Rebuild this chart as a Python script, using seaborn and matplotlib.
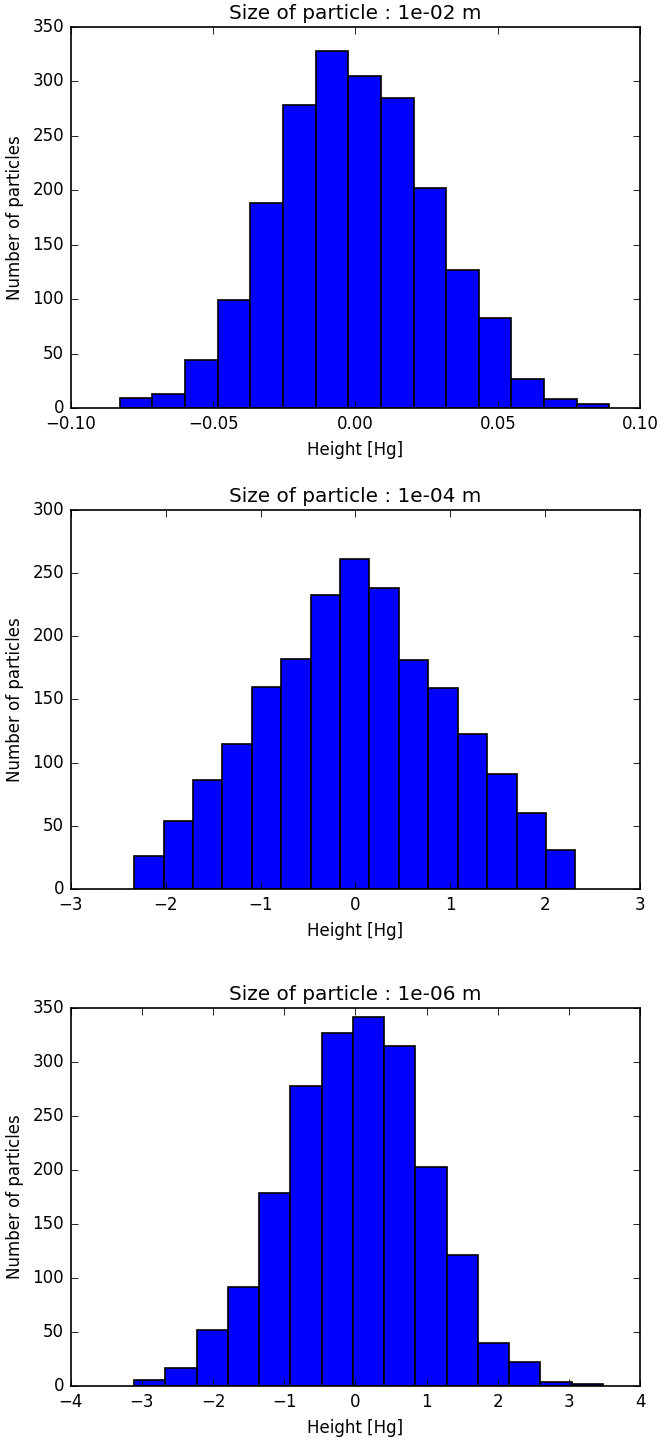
import numpy as np
import pandas as pd
import matplotlib
matplotlib.use("Agg")
import matplotlib.pyplot as plt
import seaborn as sns

# particle sizes shown in the titles
sizes = ["1e-02", "1e-04", "1e-06"]

# histogram range (first / last bin edge)
bin_lo = [-0.0828, -2.333, -3.111]
bin_hi = [0.0892, 2.317, 3.478]

# counts per bin (15 bins each)
counts_1 = [9, 13, 44, 99, 188, 278, 328, 305, 285, 202, 127, 83, 27, 8, 4]
counts_2 = [26, 54, 86, 115, 160, 182, 233, 261, 238, 181, 159, 123, 91, 60, 31]
counts_3 = [6, 17, 52, 92, 179, 278, 327, 342, 315, 203, 121, 40, 22, 4, 2]
all_counts = [counts_1, counts_2, counts_3]

x_limits = [(-0.1, 0.1), (-3, 3), (-4, 4)]
y_limits = [(0, 350), (0, 300), (0, 350)]

plt.style.use("classic")
plt.rcParams["figure.facecolor"] = "white"
plt.rcParams["savefig.facecolor"] = "white"
plt.rcParams["font.family"] = ["DejaVu Sans"]

DPI = 120
fig = plt.figure(figsize=(662 / DPI, 1439 / DPI), dpi=DPI)

tops = [0.9812, 0.6456, 0.2995]
bottoms = [0.7165, 0.3822, 0.0368]
left, right = 0.107, 0.967

for i in range(3):
    ax = fig.add_axes([left, bottoms[i], right - left, tops[i] - bottoms[i]])
    edges = np.linspace(bin_lo[i], bin_hi[i], len(all_counts[i]) + 1)
    df = pd.DataFrame({
        "height": (edges[:-1] + edges[1:]) / 2,
        "count": all_counts[i]
    })

    sns.histplot(
        data=df,
        x="height",
        weights="count",
        bins=len(all_counts[i]),
        binrange=(bin_lo[i], bin_hi[i]),
        color="blue",
        edgecolor="black",
        linewidth=1,
        alpha=1,
        ax=ax
    )

    ax.set_xlim(*x_limits[i])
    ax.set_ylim(*y_limits[i])
    ax.set_title("Size of particle : " + sizes[i] + " m", fontsize=12)
    ax.set_xlabel("Height [Hg]", fontsize=10)
    ax.set_ylabel("Number of particles", fontsize=10)
    ax.tick_params(labelsize=10)

fig.savefig("out.png", dpi=DPI)
